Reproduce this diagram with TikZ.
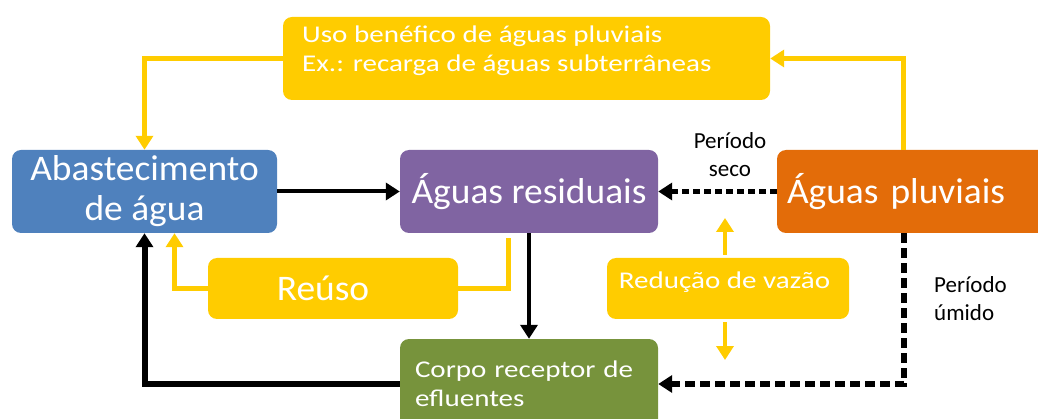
\documentclass[tikz,border=0pt]{standalone}
\usepackage{fontspec}
\setmainfont{Carlito}
\newfontfamily\largo[FakeStretch=1.21]{Carlito}
\newfontfamily\grossa[FakeStretch=1.04]{Carlito}
\usetikzlibrary{arrows.meta}
\definecolor{amarelo}{HTML}{FFCC00}
\definecolor{azul}{HTML}{4F81BD}
\definecolor{roxo}{HTML}{8064A2}
\definecolor{laranja}{HTML}{E36C09}
\definecolor{verde}{HTML}{77933C}

\begin{document}
\begin{tikzpicture}[x=1pt,y=-1pt,
    caixa/.style={rounded corners=9pt,inner sep=0pt,text=white},
    grande/.style={font=\grossa\fontsize{36}{40}\selectfont},
    pequeno/.style={font=\largo\fontsize{24}{29}\selectfont},
    rotulo/.style={font=\fontsize{23}{28}\selectfont,inner sep=0pt},
    seta/.style={-{Triangle[length=14pt,width=17pt]},line width=4pt},
    setaamarela/.style={seta,amarelo,line width=5pt},
    tracejada/.style={seta,line width=4.5pt,dash pattern=on 7pt off 4pt}]
    \useasboundingbox (0,0) rectangle (1038,419);

    \node[caixa,fill=amarelo,minimum width=487pt,minimum height=83pt] (uso) at (526.5,58.5) {};
    \node[pequeno,text=white,align=left,anchor=west,inner sep=0pt] (usotexto) at (302,51)
      {Uso benéfico de águas pluviais\\Ex.: recarga de águas subterrâneas};

    \node[caixa,grande,fill=azul,align=center,minimum width=265pt,minimum height=83pt] (abast) at (144.5,191.5)
      {Abastecimento\\de água};
    \node[caixa,grande,fill=roxo,minimum width=258pt,minimum height=83pt] (residuais) at (529,191.5)
      {Águas residuais};
    \node[caixa,grande,fill=laranja,text width=263pt,align=left,inner xsep=10pt,minimum height=83pt] (pluviais) at (918.5,191.5)
      {Águas pluviais};

    \node[caixa,fill=amarelo,minimum width=250pt,minimum height=61pt] (reuso) at (333,288.5) {};
    \node[grande,text=white,inner sep=0pt] (reusotexto) at (323,288) {Reúso};
    \node[caixa,fill=amarelo,minimum width=242pt,minimum height=61pt] (reducao) at (728,288.5) {};
    \node[pequeno,text=white,inner sep=0pt] (reducaotexto) at (724.5,282) {Redução de vazão};

    \node[caixa,pequeno,fill=verde,text width=228pt,align=left,inner xsep=15pt,minimum height=90pt] (corpo) at (529,384)
      {Corpo receptor de\\efluentes};

    \node[rotulo,align=center] (seco) at (730,155) {Período\\seco};
    \node[rotulo,align=left,anchor=west] (umido) at (934,299) {Período\\úmido};

    \coordinate (cima) at (725,218);
    \coordinate (baixo) at (725,360);

    \draw[setaamarela] (uso.west) -| (abast.north);
    \draw[setaamarela] ([xshift=-15.5pt]pluviais.north) |- (uso.east);
    \draw[seta] (abast) -- (residuais);
    \draw[tracejada] (pluviais.west) -- (residuais.east);
    \draw[seta] (residuais) -- (corpo);
    \draw[setaamarela,-,shorten <=5pt] ([xshift=-21pt]residuais.south) |- (reuso.east);
    \draw[setaamarela] (reuso.west) -| ([xshift=30pt]abast.south);
    \draw[seta,line width=6pt] (corpo.west) -| (abast.south);
    \draw[tracejada,line width=6pt,dash pattern=on 10pt off 5pt] ([xshift=-14.5pt]pluviais.south) |- (corpo.east);
    \draw[setaamarela,line width=4pt,shorten <=3pt] (reducao.north -| cima) -- (cima);
    \draw[setaamarela,line width=4pt,shorten <=3pt] (reducao.south -| baixo) -- (baixo);
\end{tikzpicture}
\end{document}
